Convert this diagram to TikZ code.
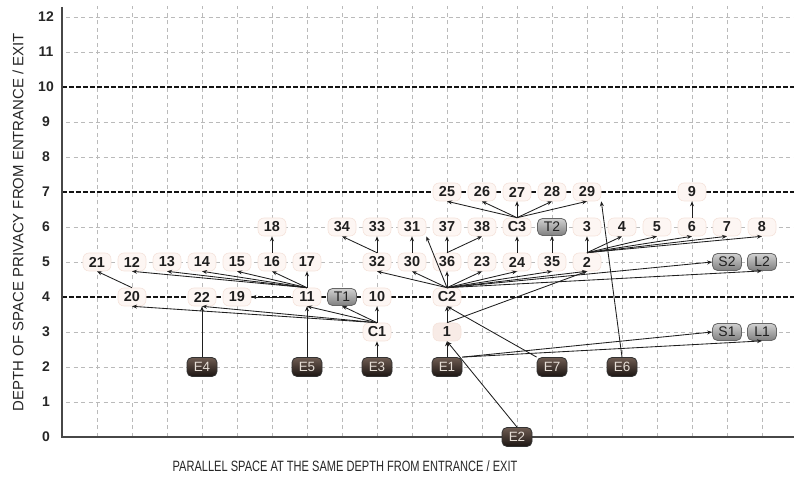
\documentclass[tikz,border=0pt]{standalone}
\usepackage{fontspec}
\usepackage{graphicx}
\setmainfont{Liberation Sans}
\usetikzlibrary{arrows.meta}
\definecolor{pinkbg}{HTML}{FDF6F3}
\definecolor{pinkln}{HTML}{F5E3DB}
\definecolor{entop}{HTML}{6E5C52}
\definecolor{enbot}{HTML}{1C1512}
\definecolor{entxt}{HTML}{E6DED6}
\begin{document}
\begin{tikzpicture}[x=35bp,y=35bp,
  gridl/.style={draw=black!27, line width=0.6bp, dash pattern=on 4bp off 3.5bp},
  levl/.style={draw=black!92, line width=1.8bp, dash pattern=on 5bp off 2bp},
  axisl/.style={draw=black!72, line width=1.6bp},
  ticklab/.style={font=\fontsize{14}{14}\selectfont\bfseries, text=black!85},
  num/.style={font=\fontsize{14.5}{14.5}\selectfont\bfseries, text=black!88, fill=pinkbg, draw=pinkln, line width=0.6bp, rounded corners=6bp, minimum width=28bp, minimum height=18bp, inner sep=1bp},
  ent/.style={font=\fontsize{13.5}{13.5}\selectfont, text=entxt, top color=entop, bottom color=enbot, draw=black!80, line width=0.8bp, rounded corners=5bp, minimum width=30bp, minimum height=19bp, inner sep=1bp},
  gry/.style={font=\fontsize{14}{14}\selectfont, text=black!88, top color=black!18, bottom color=black!50, draw=black!60, line width=0.8bp, rounded corners=5bp, minimum width=29bp, minimum height=17bp, inner sep=1bp},
  arr/.style={draw=black!88, line width=0.85bp, -{Stealth[length=5bp,width=4bp]}},
]
\useasboundingbox (-1.7714,-1.1429) rectangle (20.9143,12.4857);
% grid
\foreach \i in {1,...,20} \draw[gridl] (\i,0) -- (\i,12.3);
\foreach \j in {1,2,3,5,6,8,9,11,12} \draw[gridl] (0.12,\j) -- (20.92,\j);
\foreach \j in {4,7,10} \draw[levl] (0,\j) -- (20.92,\j);
\draw[axisl] (0,12.29) -- (0,0) -- (20.92,0);
% tick labels
\foreach \j in {0,...,12} \node[ticklab] (tick\j) at (-0.457,\j) {\j};
% titles
\node[rotate=90, text=black!85] (ytitle) at (-1.257,6.14) {\fontsize{15}{15}\selectfont DEPTH OF SPACE PRIVACY FROM ENTRANCE / EXIT};
\node[text=black!85] (xtitle) at (8.086,-0.829) {\scalebox{0.74}[1]{\fontsize{15}{15}\selectfont PARALLEL SPACE AT THE SAME DEPTH FROM ENTRANCE / EXIT}};
% level 7
\node[num] (n25) at (11,7) {25};
\node[num] (n26) at (12,7) {26};
\node[num] (n27) at (13,7) {27};
\node[num] (n28) at (14,7) {28};
\node[num] (n29) at (15,7) {29};
\node[num] (n9) at (18,7) {9};
% level 6
\node[num] (n18) at (6,6) {18};
\node[num] (n34) at (8,6) {34};
\node[num] (n33) at (9,6) {33};
\node[num] (n31) at (10,6) {31};
\node[num] (n37) at (11,6) {37};
\node[num] (n38) at (12,6) {38};
\node[num] (C3) at (13,6) {C3};
\node[gry] (T2) at (14,6) {T2};
\node[num] (n3) at (15,6) {3};
\node[num] (n4) at (16,6) {4};
\node[num] (n5) at (17,6) {5};
\node[num] (n6) at (18,6) {6};
\node[num] (n7) at (19,6) {7};
\node[num] (n8) at (20,6) {8};
% level 5
\node[num] (n21) at (1,5) {21};
\node[num] (n12) at (2,5) {12};
\node[num] (n13) at (3,5) {13};
\node[num] (n14) at (4,5) {14};
\node[num] (n15) at (5,5) {15};
\node[num] (n16) at (6,5) {16};
\node[num] (n17) at (7,5) {17};
\node[num] (n32) at (9,5) {32};
\node[num] (n30) at (10,5) {30};
\node[num] (n36) at (11,5) {36};
\node[num] (n23) at (12,5) {23};
\node[num] (n24) at (13,5) {24};
\node[num] (n35) at (14,5) {35};
\node[num] (n2) at (15,5) {2};
\node[gry] (S2) at (19,5) {S2};
\node[gry] (L2) at (20,5) {L2};
% level 4
\node[num] (n20) at (2,4) {20};
\node[num] (n22) at (4,4) {22};
\node[num] (n19) at (5,4) {19};
\node[num] (n11) at (7,4) {11};
\node[gry] (T1) at (8,4) {T1};
\node[num] (n10) at (9,4) {10};
\node[num] (C2) at (11,4) {C2};
% level 3
\node[num] (C1) at (9,3) {C1};
\node[num, fill=pinkln!70!white] (n1) at (11,3) {1};
\node[gry] (S1) at (19,3) {S1};
\node[gry] (L1) at (20,3) {L1};
% level 2 / 0
\node[ent] (E4) at (4,2) {E4};
\node[ent] (E5) at (7,2) {E5};
\node[ent] (E3) at (9,2) {E3};
\node[ent] (E1) at (11,2) {E1};
\node[ent] (E7) at (14,2) {E7};
\node[ent] (E6) at (16,2) {E6};
\node[ent] (E2) at (13,0) {E2};
% edges
\draw[arr] (n20.north) -- (n21.south);
\foreach \t in {n12,n13,n14,n15,n16,n17} \draw[arr] (n11.north) -- (\t.south);
\draw[arr] (n16.north) -- (n18.south);
\draw[arr] (n11.west) -- (n19.east);
\foreach \t in {n20,n22,n11,T1,n10} \draw[arr] (C1.north) -- (\t.south);
\draw[arr] (E4.north) -- (n22.south);
\draw[arr] (E5.north) -- (n11.south);
\draw[arr] (E3.north) -- (C1.south);
\foreach \t in {n32,n30,n36,n23,n24,n35,n2,L2} \draw[arr] (C2.north) -- (\t.south);
\draw[arr] (C2.north) -- (n31.south east);
\draw[arr] (C2.north) -- (S2.west);
\draw[arr] (n32.north) -- (n34.south);
\draw[arr] (n32.north) -- (n33.south);
\draw[arr] (n30.north) -- (n31.south);
\draw[arr] (n36.north) -- (n37.south);
\draw[arr] (n36.north) -- (n38.south);
\draw[arr] (n24.north) -- (C3.south);
\draw[arr] (n35.north) -- (T2.south);
\foreach \t in {n3,n4,n5,n6,n7,n8} \draw[arr] (n2.north) -- (\t.south);
\draw[arr] (n6.north) -- (n9.south);
\foreach \t in {n25,n26,n27,n28,n29} \draw[arr] (C3.north) -- (\t.south);
\draw[arr] (E6.north) -- (n29.south east);
\draw[arr] (n1.north) -- (C2.south);
\draw[arr] (n1.north) -- (n2.south);
\draw[arr] (E7.north west) -- (C2.south);
\draw[arr] (E1.north) -- (n1.south);
\draw[arr] (E2.north) -- (n1.south);
\draw[arr] (E1.north east) -- (S1.west);
\draw[arr] (E1.north east) -- (L1.south);
\end{tikzpicture}
\end{document}
